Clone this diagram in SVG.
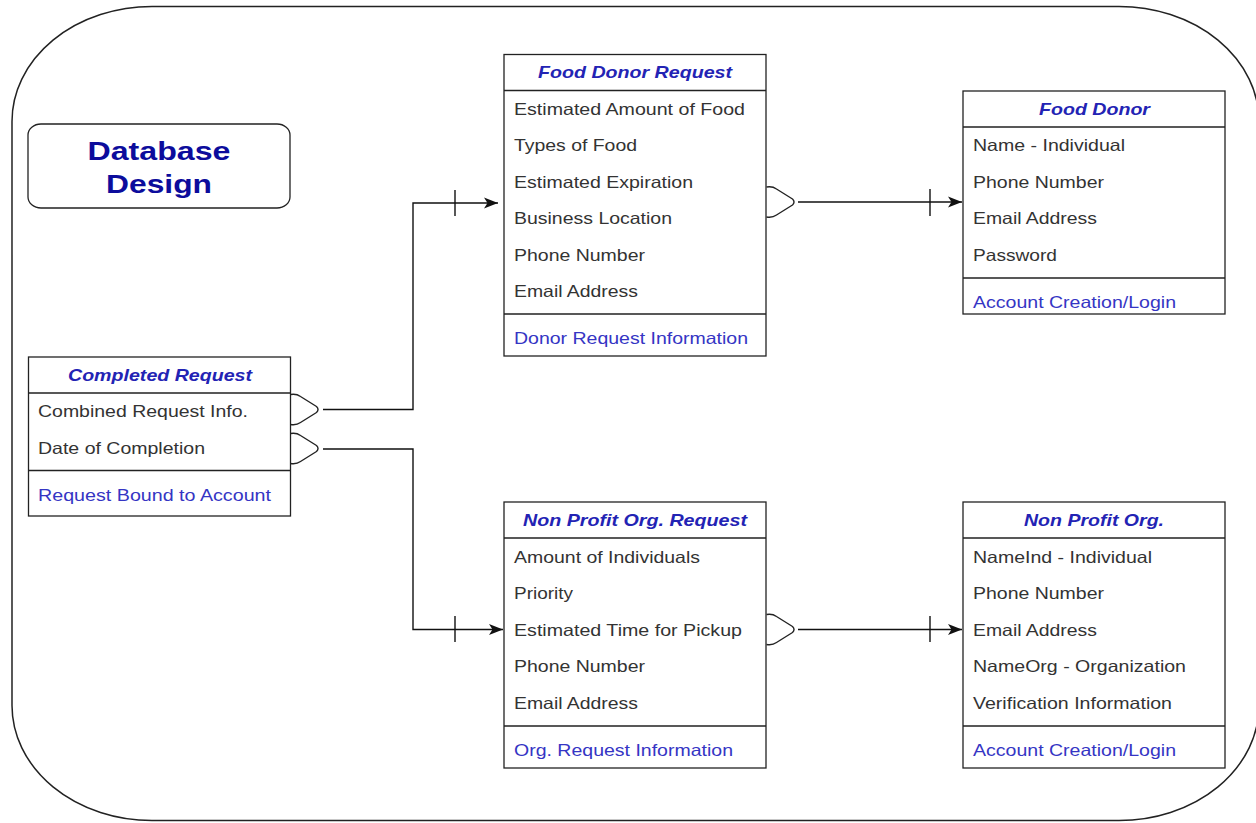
<svg xmlns="http://www.w3.org/2000/svg" xmlns:xlink="http://www.w3.org/1999/xlink" width="1256" height="823" viewBox="0 0 1256 823">
  <style>
    .frame { fill: none; stroke: #222; stroke-width: 1.5; }
    .box { fill: #fff; stroke: #222; stroke-width: 1.3; }
    .div { stroke: #222; stroke-width: 1.3; fill: none; }
    .title { font-family: "Liberation Sans", Arial, sans-serif; font-weight: bold; font-size: 26px; fill: #0c0c9c; text-anchor: middle; }
    .head { font-family: "Liberation Sans", Arial, sans-serif; font-weight: bold; font-style: italic; font-size: 16.5px; fill: #2323b4; }
    .row { font-family: "Liberation Sans", Arial, sans-serif; font-size: 16.5px; fill: #333; }
    .foot { font-family: "Liberation Sans", Arial, sans-serif; font-size: 16.5px; fill: #3535c4; }
    .link { fill: none; stroke: #111; stroke-width: 1.4; }
    .many { fill: none; stroke: #222; stroke-width: 1.4; stroke-linejoin: round; }
  </style>
  <defs>
    <marker id="arrow" markerUnits="userSpaceOnUse" markerWidth="15" markerHeight="12" refX="14" refY="6" orient="auto">
      <path d="M0,0.5 L14,6 L0,11.5 L3.5,6 Z" fill="#111"/>
    </marker>
    <path id="crow" class="many" d="M0,-15 Q6,-16 10,-13 L26,-3 Q29,0 26,3 L10,13 Q6,16 0,15"/>
  </defs>

  <rect width="1256" height="823" fill="#fff"/>

  <!-- outer frame -->
  <rect class="frame" x="12" y="6.5" width="1247" height="814" rx="140" ry="115"/>

  <!-- title -->
  <g id="title">
    <rect class="box" x="28" y="124" width="262" height="84" rx="13" ry="11"/>
    <text class="title" x="159" y="160" textLength="143" lengthAdjust="spacingAndGlyphs">Database</text>
    <text class="title" x="159" y="193" textLength="106" lengthAdjust="spacingAndGlyphs">Design</text>
  </g>

  <!-- connectors -->
  <g id="connectors">
    <use xlink:href="#crow" x="290.5" y="409.5"/>
    <use xlink:href="#crow" x="290.5" y="448.5"/>
    <use xlink:href="#crow" x="766.5" y="202"/>
    <use xlink:href="#crow" x="766.5" y="629.5"/>
    <path class="link" d="M323,409.5 H413 V203 H498" marker-end="url(#arrow)"/>
    <path class="link" d="M455,190 V216"/>
    <path class="link" d="M323,449 H413 V629.5 H503" marker-end="url(#arrow)"/>
    <path class="link" d="M455,616 V642"/>
    <path class="link" d="M798,202 H962" marker-end="url(#arrow)"/>
    <path class="link" d="M930,189 V216"/>
    <path class="link" d="M798,629.5 H962" marker-end="url(#arrow)"/>
    <path class="link" d="M930,616 V642"/>
  </g>

  <!-- Food Donor Request -->
  <g id="food-donor-request">
    <rect class="box" x="504" y="54.5" width="262" height="301.5"/>
    <path class="div" d="M504,90.5 H766 M504,314 H766"/>
    <text class="head" x="538" y="78" textLength="194" lengthAdjust="spacingAndGlyphs">Food Donor Request</text>
    <text class="row" x="514" y="114.5" textLength="231" lengthAdjust="spacingAndGlyphs">Estimated Amount of Food</text>
    <text class="row" x="514" y="151" textLength="123" lengthAdjust="spacingAndGlyphs">Types of Food</text>
    <text class="row" x="514" y="187.5" textLength="179" lengthAdjust="spacingAndGlyphs">Estimated Expiration</text>
    <text class="row" x="514" y="224" textLength="158" lengthAdjust="spacingAndGlyphs">Business Location</text>
    <text class="row" x="514" y="260.5" textLength="131" lengthAdjust="spacingAndGlyphs">Phone Number</text>
    <text class="row" x="514" y="297" textLength="124" lengthAdjust="spacingAndGlyphs">Email Address</text>
    <text class="foot" x="514" y="344" textLength="234" lengthAdjust="spacingAndGlyphs">Donor Request Information</text>
  </g>

  <!-- Food Donor -->
  <g id="food-donor">
    <rect class="box" x="963" y="91" width="262" height="223"/>
    <path class="div" d="M963,127 H1225 M963,278 H1225"/>
    <text class="head" x="1039" y="115" textLength="111" lengthAdjust="spacingAndGlyphs">Food Donor</text>
    <text class="row" x="973" y="151" textLength="152" lengthAdjust="spacingAndGlyphs">Name - Individual</text>
    <text class="row" x="973" y="187.5" textLength="131" lengthAdjust="spacingAndGlyphs">Phone Number</text>
    <text class="row" x="973" y="224" textLength="124" lengthAdjust="spacingAndGlyphs">Email Address</text>
    <text class="row" x="973" y="260.5" textLength="84" lengthAdjust="spacingAndGlyphs">Password</text>
    <text class="foot" x="973" y="307.5" textLength="203" lengthAdjust="spacingAndGlyphs">Account Creation/Login</text>
  </g>

  <!-- Completed Request -->
  <g id="completed-request">
    <rect class="box" x="28.5" y="357" width="262" height="159"/>
    <path class="div" d="M28.5,393 H290.5 M28.5,470.5 H290.5"/>
    <text class="head" x="68" y="381" textLength="184" lengthAdjust="spacingAndGlyphs">Completed Request</text>
    <text class="row" x="38" y="417" textLength="210" lengthAdjust="spacingAndGlyphs">Combined Request Info.</text>
    <text class="row" x="38" y="453.5" textLength="167" lengthAdjust="spacingAndGlyphs">Date of Completion</text>
    <text class="foot" x="38" y="501" textLength="233" lengthAdjust="spacingAndGlyphs">Request Bound to Account</text>
  </g>

  <!-- Non Profit Org. Request -->
  <g id="non-profit-request">
    <rect class="box" x="504" y="502" width="262" height="266"/>
    <path class="div" d="M504,538 H766 M504,726 H766"/>
    <text class="head" x="523" y="526" textLength="224" lengthAdjust="spacingAndGlyphs">Non Profit Org. Request</text>
    <text class="row" x="514" y="563" textLength="186" lengthAdjust="spacingAndGlyphs">Amount of Individuals</text>
    <text class="row" x="514" y="599" textLength="59" lengthAdjust="spacingAndGlyphs">Priority</text>
    <text class="row" x="514" y="635.5" textLength="228" lengthAdjust="spacingAndGlyphs">Estimated Time for Pickup</text>
    <text class="row" x="514" y="672" textLength="131" lengthAdjust="spacingAndGlyphs">Phone Number</text>
    <text class="row" x="514" y="708.5" textLength="124" lengthAdjust="spacingAndGlyphs">Email Address</text>
    <text class="foot" x="514" y="756" textLength="219" lengthAdjust="spacingAndGlyphs">Org. Request Information</text>
  </g>

  <!-- Non Profit Org. -->
  <g id="non-profit-org">
    <rect class="box" x="963" y="502" width="262" height="266"/>
    <path class="div" d="M963,538 H1225 M963,726 H1225"/>
    <text class="head" x="1024" y="526" textLength="140" lengthAdjust="spacingAndGlyphs">Non Profit Org.</text>
    <text class="row" x="973" y="563" textLength="179" lengthAdjust="spacingAndGlyphs">NameInd - Individual</text>
    <text class="row" x="973" y="599" textLength="131" lengthAdjust="spacingAndGlyphs">Phone Number</text>
    <text class="row" x="973" y="635.5" textLength="124" lengthAdjust="spacingAndGlyphs">Email Address</text>
    <text class="row" x="973" y="672" textLength="213" lengthAdjust="spacingAndGlyphs">NameOrg - Organization</text>
    <text class="row" x="973" y="708.5" textLength="199" lengthAdjust="spacingAndGlyphs">Verification Information</text>
    <text class="foot" x="973" y="756" textLength="203" lengthAdjust="spacingAndGlyphs">Account Creation/Login</text>
  </g>
</svg>
